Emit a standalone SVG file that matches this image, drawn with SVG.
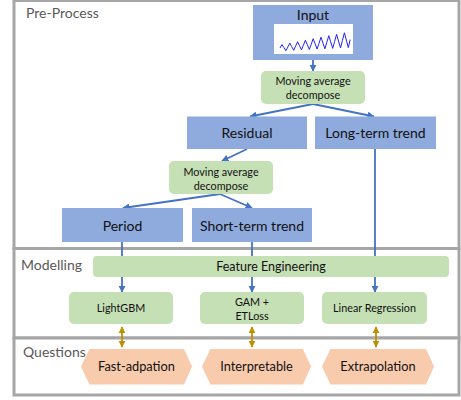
<svg xmlns="http://www.w3.org/2000/svg" width="461" height="400" viewBox="0 0 461 400">
  <defs>
    <style>
      .frame { fill: #ffffff; stroke: #a6a6a6; stroke-width: 3; }
      .sect { font-family: Lato, "Liberation Sans", sans-serif; font-size: 14px; fill: #595959; }
      .blue { fill: #8faadc; }
      .green { fill: #c5e0b4; }
      .hex { fill: #f8cbad; }
      .t14 { font-family: Lato, "Liberation Sans", sans-serif; font-size: 14px; fill: #111; text-anchor: middle; }
      .t11 { font-family: Lato, "Liberation Sans", sans-serif; font-size: 10.8px; fill: #111; text-anchor: middle; }
      .t12 { font-family: Lato, "Liberation Sans", sans-serif; font-size: 12.5px; fill: #111; text-anchor: middle; }
      .t13 { font-family: Lato, "Liberation Sans", sans-serif; font-size: 12.8px; fill: #111; text-anchor: middle; }
      .flow { stroke: #4472c4; stroke-width: 1.8; fill: none; marker-end: url(#ah); }
      .link { stroke: #bf9000; stroke-width: 1.8; fill: none; marker-start: url(#gh); marker-end: url(#gh); }
    </style>
    <marker id="ah" viewBox="0 0 10 10" refX="9" refY="5" markerWidth="4" markerHeight="4" orient="auto" markerUnits="strokeWidth">
      <path d="M0,0 L10,5 L0,10 Z" fill="#4472c4"/>
    </marker>
    <marker id="gh" viewBox="0 0 10 10" refX="9" refY="5" markerWidth="4" markerHeight="4" orient="auto-start-reverse" markerUnits="strokeWidth">
      <path d="M0,0 L10,5 L0,10 Z" fill="#bf9000"/>
    </marker>
  </defs>

  <!-- section frames -->
  <g id="sections">
    <rect class="frame" x="14" y="0.5" width="445" height="248"/>
    <rect class="frame" x="14" y="248.5" width="445" height="89.5"/>
    <rect class="frame" x="14" y="338" width="445" height="57"/>
    <text class="sect" x="26" y="18">Pre-Process</text>
    <text class="sect" x="21" y="270">Modelling</text>
    <text class="sect" x="23" y="357">Questions</text>
  </g>

  <!-- connectors -->
  <g id="connectors">
    <line class="flow" x1="313" y1="60" x2="313" y2="71"/>
    <line class="flow" x1="313" y1="104" x2="250" y2="116.5"/>
    <line class="flow" x1="313" y1="104" x2="374" y2="116.5"/>
    <line class="flow" x1="247" y1="149" x2="222" y2="161"/>
    <line class="flow" x1="220" y1="194" x2="123" y2="208"/>
    <line class="flow" x1="220" y1="194" x2="252" y2="208"/>
    <line class="flow" x1="122" y1="242" x2="122" y2="292"/>
    <line class="flow" x1="252" y1="242" x2="252" y2="292"/>
    <line class="flow" x1="375" y1="149" x2="375" y2="292"/>
    <line class="link" x1="122" y1="327" x2="122" y2="347"/>
    <line class="link" x1="252" y1="327" x2="252" y2="347"/>
    <line class="link" x1="376" y1="327" x2="376" y2="347"/>
  </g>

  <g id="input">
    <rect class="blue" x="253" y="5" width="120" height="55"/>
    <text class="t14" x="313" y="20">Input</text>
    <rect x="274" y="24" width="79" height="30" fill="#ffffff"/>
    <polyline fill="none" stroke="#2323f0" stroke-width="1" stroke-linejoin="round"
      points="280,48 282,44.6 283.9,47.5 285.9,50.7 287.8,47.1 289.8,43.1 291.7,46.6 293.7,50.3 295.6,46.1 297.6,41.7 299.5,45.7 301.5,49.9 303.4,45.2 305.4,40.2 307.3,44.7 309.3,49.5 311.2,44.3 313.2,38.7 315.1,43.8 317.1,49.1 319,43.3 321,37.2 322.9,42.9 324.9,48.8 326.8,42.4 328.8,35.7 330.7,41.9 332.7,48.4 334.6,41.5 336.6,34.3 338.5,41 340.5,48 342.4,40.5 344.4,32.8 346.3,40 348.3,47.6 350.2,39.6"/>
  </g>

  <g id="decompose1">
    <rect class="green" x="261" y="71" width="104" height="33" rx="5"/>
    <text class="t11" x="313" y="85">Moving average</text>
    <text class="t11" x="313" y="99">decompose</text>
  </g>

  <g id="residual">
    <rect class="blue" x="187" y="116.5" width="120" height="32.5"/>
    <text class="t14" x="247" y="138">Residual</text>
  </g>

  <g id="long-term">
    <rect class="blue" x="315" y="116.5" width="121" height="32.5"/>
    <text class="t14" x="375.5" y="138">Long-term trend</text>
  </g>

  <g id="decompose2">
    <rect class="green" x="169" y="161" width="104" height="33" rx="5"/>
    <text class="t11" x="221" y="175.5">Moving average</text>
    <text class="t11" x="221" y="189.5">decompose</text>
  </g>

  <g id="period">
    <rect class="blue" x="62" y="208" width="121" height="34"/>
    <text class="t14" x="122.5" y="230.5">Period</text>
  </g>

  <g id="short-term">
    <rect class="blue" x="192" y="208" width="120" height="34"/>
    <text class="t14" x="252" y="230.5">Short-term trend</text>
  </g>

  <g id="feature-engineering">
    <rect class="green" x="93" y="256" width="356" height="21" rx="4"/>
    <text class="t12" x="271" y="271">Feature Engineering</text>
  </g>

  <g id="lightgbm">
    <rect class="green" x="69" y="292" width="104" height="32" rx="5"/>
    <text class="t11" x="121" y="312">LightGBM</text>
  </g>

  <g id="gam">
    <rect class="green" x="200" y="292" width="104" height="32" rx="5"/>
    <text class="t11" x="252" y="306">GAM +</text>
    <text class="t11" x="252" y="320">ETLoss</text>
  </g>

  <g id="linear-regression">
    <rect class="green" x="322" y="292" width="105" height="32" rx="5"/>
    <text class="t11" x="374.5" y="312">Linear Regression</text>
  </g>

  <g id="fast-adaptation">
    <polygon class="hex" points="81,366.5 89.5,349 184,349 192,366.5 184,384.5 89.5,384.5"/>
    <text class="t13" x="136.5" y="371">Fast-adpation</text>
  </g>

  <g id="interpretable">
    <polygon class="hex" points="202,366.5 210.5,349 303,349 311,366.5 303,384.5 210.5,384.5"/>
    <text class="t13" x="256.5" y="371">Interpretable</text>
  </g>

  <g id="extrapolation">
    <polygon class="hex" points="322,366.5 330.5,349 426,349 434,366.5 426,384.5 330.5,384.5"/>
    <text class="t13" x="378" y="371">Extrapolation</text>
  </g>
</svg>
